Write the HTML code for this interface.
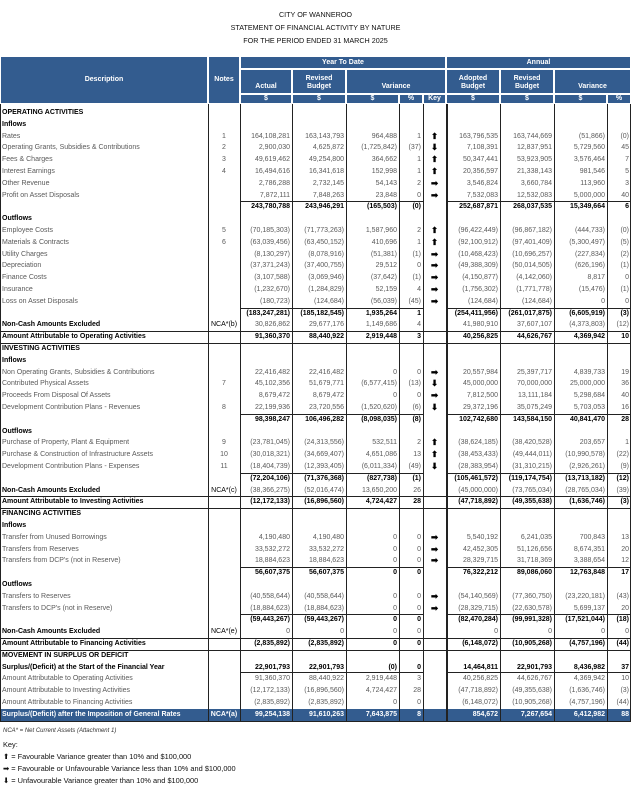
<!DOCTYPE html>
<html><head><meta charset="utf-8">
<style>
body{margin:0;background:#fff;width:631px;height:785px;overflow:hidden;position:relative;font-family:"Liberation Sans",sans-serif;}
.t{position:absolute;left:0;width:631px;text-align:center;font-size:7.2px;color:#111;}
.c{position:absolute;box-sizing:border-box;font-size:7px;line-height:11.8px;height:11.8px;white-space:nowrap;overflow:visible;color:#5a5a5a;}
.h{position:absolute;box-sizing:border-box;background:#335c8f;color:#fff;font-weight:bold;font-size:7px;display:flex;align-items:center;justify-content:center;text-align:center;line-height:8px;border:0.5px solid #fff;}
.b{color:#000;font-weight:bold;}
.vl{position:absolute;width:1px;background:#222;}
.hl{position:absolute;height:1px;background:#222;}
.n{position:absolute;font-size:6px;color:#333;font-style:italic;}
.k{position:absolute;font-size:7.4px;color:#111;left:3px;}
</style></head><body>
<div class="t" style="top:10px">CITY OF WANNEROO</div>
<div class="t" style="top:23px">STATEMENT OF FINANCIAL ACTIVITY BY NATURE</div>
<div class="t" style="top:36px">FOR THE PERIOD ENDED 31 MARCH 2025</div>
<div id="tbl"></div>
<div class="n" style="top:728px;left:3px">NCA* = Net Current Assets (Attachment 1)</div>
<div class="k" style="top:740px">Key:</div>
<div class="k" style="top:752px">⬆ = Favourable Variance greater than 10% and $100,000</div>
<div class="k" style="top:764px">➡ = Favourable or Unfavourable Variance less than 10% and $100,000</div>
<div class="k" style="top:776px">⬇ = Unfavourable Variance greater than 10% and $100,000</div>
<script>
const colEdges=[0,208,240,292,346,399,423,446,500,554,607,631];
const rows=[
["OPERATING ACTIVITIES","","","","","","","","","","","h"],
["Inflows","","","","","","","","","","","h"],
["Rates","1","164,108,281","163,143,793","964,488","1","u","163,796,535","163,744,669","(51,866)","(0)",""],
["Operating Grants, Subsidies & Contributions","2","2,900,030","4,625,872","(1,725,842)","(37)","d","7,108,391","12,837,951","5,729,560","45",""],
["Fees & Charges","3","49,619,462","49,254,800","364,662","1","u","50,347,441","53,923,905","3,576,464","7",""],
["Interest Earnings","4","16,494,616","16,341,618","152,998","1","u","20,356,597","21,338,143","981,546","5",""],
["Other Revenue","","2,786,288","2,732,145","54,143","2","r","3,546,824","3,660,784","113,960","3",""],
["Profit on Asset Disposals","","7,872,111","7,848,263","23,848","0","r","7,532,083","12,532,083","5,000,000","40",""],
["","","243,780,788","243,946,291","(165,503)","(0)","","252,687,871","268,037,535","15,349,664","6","s"],
["Outflows","","","","","","","","","","","h"],
["Employee Costs","5","(70,185,303)","(71,773,263)","1,587,960","2","u","(96,422,449)","(96,867,182)","(444,733)","(0)",""],
["Materials & Contracts","6","(63,039,456)","(63,450,152)","410,696","1","u","(92,100,912)","(97,401,409)","(5,300,497)","(5)",""],
["Utility Charges","","(8,130,297)","(8,078,916)","(51,381)","(1)","r","(10,468,423)","(10,696,257)","(227,834)","(2)",""],
["Depreciation","","(37,371,243)","(37,400,755)","29,512","0","r","(49,388,309)","(50,014,505)","(626,196)","(1)",""],
["Finance Costs","","(3,107,588)","(3,069,946)","(37,642)","(1)","r","(4,150,877)","(4,142,060)","8,817","0",""],
["Insurance","","(1,232,670)","(1,284,829)","52,159","4","r","(1,756,302)","(1,771,778)","(15,476)","(1)",""],
["Loss on Asset Disposals","","(180,723)","(124,684)","(56,039)","(45)","r","(124,684)","(124,684)","0","0",""],
["","","(183,247,281)","(185,182,545)","1,935,264","1","","(254,411,956)","(261,017,875)","(6,605,919)","(3)","s"],
["Non-Cash Amounts Excluded","NCA*(b)","30,826,862","29,677,176","1,149,686","4","","41,980,910","37,607,107","(4,373,803)","(12)","n"],
["Amount Attributable to Operating Activities","","91,360,370","88,440,922","2,919,448","3","","40,256,825","44,626,767","4,369,942","10","a"],
["INVESTING ACTIVITIES","","","","","","","","","","","h"],
["Inflows","","","","","","","","","","","h"],
["Non Operating Grants, Subsidies & Contributions","","22,416,482","22,416,482","0","0","r","20,557,984","25,397,717","4,839,733","19",""],
["Contributed Physical Assets","7","45,102,356","51,679,771","(6,577,415)","(13)","d","45,000,000","70,000,000","25,000,000","36",""],
["Proceeds From Disposal Of Assets","","8,679,472","8,679,472","0","0","r","7,812,500","13,111,184","5,298,684","40",""],
["Development Contribution Plans - Revenues","8","22,199,936","23,720,556","(1,520,620)","(6)","d","29,372,196","35,075,249","5,703,053","16",""],
["","","98,398,247","106,496,282","(8,098,035)","(8)","","102,742,680","143,584,150","40,841,470","28","s"],
["Outflows","","","","","","","","","","","h"],
["Purchase of Property, Plant & Equipment","9","(23,781,045)","(24,313,556)","532,511","2","u","(38,624,185)","(38,420,528)","203,657","1",""],
["Purchase & Construction of Infrastructure Assets","10","(30,018,321)","(34,669,407)","4,651,086","13","u","(38,453,433)","(49,444,011)","(10,990,578)","(22)",""],
["Development Contribution Plans - Expenses","11","(18,404,739)","(12,393,405)","(6,011,334)","(49)","d","(28,383,954)","(31,310,215)","(2,926,261)","(9)",""],
["","","(72,204,106)","(71,376,368)","(827,738)","(1)","","(105,461,572)","(119,174,754)","(13,713,182)","(12)","s"],
["Non-Cash Amounts Excluded","NCA*(c)","(38,366,275)","(52,016,474)","13,650,200","26","","(45,000,000)","(73,765,034)","(28,765,034)","(39)","n"],
["Amount Attributable to Investing Activities","","(12,172,133)","(16,896,560)","4,724,427","28","","(47,718,892)","(49,355,638)","(1,636,746)","(3)","a"],
["FINANCING ACTIVITIES","","","","","","","","","","","h"],
["Inflows","","","","","","","","","","","h"],
["Transfer from Unused Borrowings","","4,190,480","4,190,480","0","0","r","5,540,192","6,241,035","700,843","13",""],
["Transfers from Reserves","","33,532,272","33,532,272","0","0","r","42,452,305","51,126,656","8,674,351","20",""],
["Transfers from DCP's (not in Reserve)","","18,884,623","18,884,623","0","0","r","28,329,715","31,718,369","3,388,654","12",""],
["","","56,607,375","56,607,375","0","0","","76,322,212","89,086,060","12,763,848","17","s"],
["Outflows","","","","","","","","","","","h"],
["Transfers to Reserves","","(40,558,644)","(40,558,644)","0","0","r","(54,140,569)","(77,360,750)","(23,220,181)","(43)",""],
["Transfers to DCP's (not in Reserve)","","(18,884,623)","(18,884,623)","0","0","r","(28,329,715)","(22,630,578)","5,699,137","20",""],
["","","(59,443,267)","(59,443,267)","0","0","","(82,470,284)","(99,991,328)","(17,521,044)","(18)","s"],
["Non-Cash Amounts Excluded","NCA*(e)","0","0","0","0","","0","0","0","0","n"],
["Amount Attributable to Financing Activities","","(2,835,892)","(2,835,892)","0","0","","(6,148,072)","(10,905,268)","(4,757,196)","(44)","a"],
["MOVEMENT IN SURPLUS OR DEFICIT","","","","","","","","","","","h"],
["Surplus/(Deficit) at the Start of the Financial Year","","22,901,793","22,901,793","(0)","0","","14,464,811","22,901,793","8,436,982","37","m"],
["Amount Attributable to Operating Activities","","91,360,370","88,440,922","2,919,448","3","","40,256,825","44,626,767","4,369,942","10",""],
["Amount Attributable to Investing Activities","","(12,172,133)","(16,896,560)","4,724,427","28","","(47,718,892)","(49,355,638)","(1,636,746)","(3)",""],
["Amount Attributable to Financing Activities","","(2,835,892)","(2,835,892)","0","0","","(6,148,072)","(10,905,268)","(4,757,196)","(44)",""],
["Surplus/(Deficit) after the Imposition of General Rates","NCA*(a)","99,254,138","91,610,263","7,643,875","8","","854,672","7,267,654","6,412,982","88","f"]
];
const keyGlyph={u:"⬆",r:"➡",d:"⬇"};
const T=document.getElementById('tbl');
const top0=107,rh=11.8;
function mk(cls,x,y,w,h,txt,st){const d=document.createElement('div');d.className=cls;d.style.left=x+'px';d.style.top=y+'px';d.style.width=w+'px';d.style.height=h+'px';if(txt!==undefined)d.textContent=txt;if(st)d.style.cssText+=st;T.appendChild(d);return d;}
const hy=56;
let e;
e=mk('h',0,hy,208,48,'Description');
e=mk('h',208,hy,32,48,'Notes');
e=mk('h',240,hy,206,13,'Year To Date');
e=mk('h',446,hy,185,13,'Annual');
const sub=[[240,292,'Actual'],[292,346,'Revised Budget'],[346,446,'Variance'],[446,500,'Adopted Budget'],[500,554,'Revised Budget'],[554,631,'Variance']];
sub.forEach(s=>{e=mk('h',s[0],hy+13,s[1]-s[0],25,s[2]);e.style.alignItems='flex-end';e.style.paddingBottom='2px';});
const units=['$','$','$','%','Key','$','$','$','%'];
for(let i=0;i<9;i++){e=mk('h',colEdges[i+2],hy+38,colEdges[i+3]-colEdges[i+2],10,units[i]);}
const bodyBottom=top0+rows.length*rh;
rows.forEach((r,i)=>{
  const y=top0+i*rh,st=r[11];
  const isBold=st==='h'||st==='s'||st==='a'||st==='m'||st==='f'||st==='n';
  if(st==='f'){const bg=mk('h',0,y,631,rh,'');bg.style.border='none';}
  for(let c=0;c<11;c++){
    let txt=r[c];if(c===6)txt=keyGlyph[txt]||'';
    if(txt==='')continue;
    const x=colEdges[c],w=colEdges[c+1]-colEdges[c];
    const d=mk('c'+(isBold&&!(st==='n'&&c>1)?' b':''),x,y,w,rh,txt);
    
    
    d.style.textAlign=c===0?'left':(c===1||c===6?'center':'right');
    d.style.padding=c===0?'0 0 0 2px':'0 2px';
    if(c===6){d.style.color='#000';d.style.fontSize='8.5px';d.style.fontWeight='bold';}
    if(st==='f'){d.style.color='#fff';d.style.fontWeight='bold';}
    if(st==='n'&&c===1){d.style.fontWeight='normal';d.style.color='#000';}
  }
  if(st==='s'){for(let c=2;c<11;c++){if(c===6)continue;const l=mk('hl',colEdges[c],y,colEdges[c+1]-colEdges[c],1);}}
  if(st==='a'){let l=mk('hl',0,y,631,1);
    l=mk('hl',0,y+rh,631,1);}
  if(st==='m'){for(let c=2;c<11;c++){if(c===6)continue;const l=mk('hl',colEdges[c],y+rh-1,colEdges[c+1]-colEdges[c],1);}}
});
for(let c=0;c<colEdges.length;c++){const x=Math.min(colEdges[c],630);const l=mk('vl',x,top0-3,1,bodyBottom-top0+3);if(c===7){l.style.width='2px';}}
let l=mk('hl',0,bodyBottom,631,1);
</script>
</body></html>
